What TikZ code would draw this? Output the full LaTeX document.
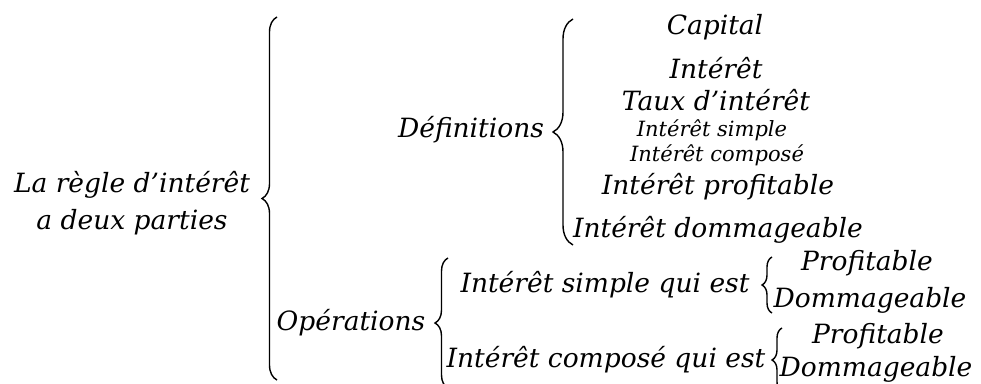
\documentclass[tikz,border=0pt]{standalone}
\usepackage{fontspec}
\setmainfont{DejaVu Serif}
\usetikzlibrary{decorations.pathreplacing}
\tikzset{
  lbl/.style={inner sep=0pt, font=\itshape\fontsize{26.5}{37}\selectfont, align=center},
  sml/.style={inner sep=0pt, font=\itshape\fontsize{21}{24}\selectfont},
  brc/.style={decorate, decoration={brace, amplitude=#1}, line width=1.4pt, black},
}
\begin{document}
\begin{tikzpicture}[x=1pt,y=-1pt]
\useasboundingbox (0,0) rectangle (981,383);
\clip (0,0) rectangle (981,383);
% root
\node[lbl] (root) at (132,203) {La règle d'intérêt\\a deux parties};
\draw[brc=15] (277,380) -- (277,17);
% definitions
\node[lbl] (def) at (471,130) {Définitions};
\draw[brc=20] (573,245) -- (573,19);
\node[lbl] (cap) at (715,27) {Capital};
\node[lbl] (int) at (716,68) {Intérêt};
\node[lbl] (taux) at (716,100) {Taux d'intérêt};
\node[sml] (isim) at (712,130) {Intérêt simple};
\node[sml] (icom) at (717,155) {Intérêt composé};
\node[lbl] (ipro) at (718,187) {Intérêt profitable};
\node[lbl] (idom) at (718,230) {Intérêt dommageable};
% operations
\node[lbl] (ops) at (351,323) {Opérations};
\draw[brc=13] (448,388) -- (448,258);
\node[lbl] (osim) at (605,285) {Intérêt simple qui est};
\node[lbl] (ocom) at (606,360) {Intérêt composé qui est};
\draw[brc=10] (772,313) -- (772,257);
\node[lbl] (p1) at (867,263) {Profitable};
\node[lbl] (d1) at (870,300) {Dommageable};
\draw[brc=10] (782,392) -- (782,328);
\node[lbl] (p2) at (878,336) {Profitable};
\node[lbl] (d2) at (876,369) {Dommageable};
\end{tikzpicture}
\end{document}
